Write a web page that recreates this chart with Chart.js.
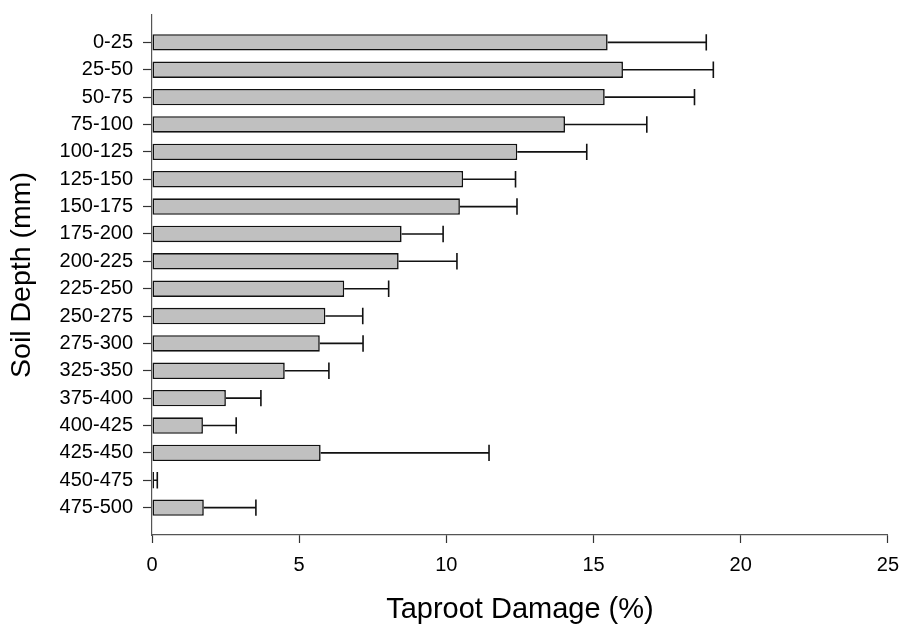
<!DOCTYPE html>
<html>
<head>
<meta charset="utf-8">
<script src="https://cdn.jsdelivr.net/npm/chart.js@4"></script>
<style>
  html, body { margin: 0; padding: 0; background: #fff; }
  canvas { display: block; }
</style>
</head>
<body>
<canvas id="chart" width="909" height="628"></canvas>
<script>
// Soil depth classes (mm)
const depths = ['0-25', '25-50', '50-75', '75-100', '100-125', '125-150', '150-175',
  '175-200', '200-225', '225-250', '250-275', '275-300', '325-350', '375-400',
  '400-425', '425-450', '450-475', '475-500'];

// Mean taproot damage (%) per depth class
const damage = [15.48, 16.0, 15.38, 14.03, 12.41, 10.57, 10.46, 8.48, 8.38, 6.53,
  5.89, 5.70, 4.51, 2.51, 1.73, 5.73, 0.07, 1.76];

// Standard error (%) drawn as a one-sided error bar
const stdError = [3.35, 3.07, 3.05, 2.78, 2.36, 1.78, 1.94, 1.41, 1.98, 1.51,
  1.27, 1.47, 1.50, 1.19, 1.13, 5.72, 0.11, 1.77];

// X-axis tick values
const xTicks = [0, 5, 10, 15, 20, 25];

// One empty slot above and below leaves a full row of space at each end of the axis
const labels = [''].concat(depths, ['']);
const values = [null].concat(damage, [null]);
const errors = [null].concat(stdError, [null]);

const FONT = "Arial, 'Liberation Sans', sans-serif";

const errorBars = {
  id: 'errorBars',
  afterDatasetsDraw(chart) {
    const meta = chart.getDatasetMeta(0);
    const xs = chart.scales.x;
    const ctx = chart.ctx;
    ctx.save();
    ctx.strokeStyle = '#111';
    ctx.lineWidth = 1.6;
    meta.data.forEach((bar, i) => {
      const v = values[i];
      const e = errors[i];
      if (v == null || e == null) return;
      const x0 = xs.getPixelForValue(v);
      const x1 = xs.getPixelForValue(v + e);
      const y = bar.y;
      const h = bar.height / 2;
      ctx.beginPath();
      ctx.moveTo(x0, y);
      ctx.lineTo(x1, y);
      ctx.moveTo(x1, y - h);
      ctx.lineTo(x1, y + h);
      ctx.stroke();
    });
    ctx.restore();
  }
};

new Chart(document.getElementById('chart'), {
  type: 'bar',
  data: {
    labels: labels,
    datasets: [{
      data: values,
      backgroundColor: '#c0c0c0',
      borderColor: '#111',
      borderWidth: 1.6,
      borderSkipped: false,
      barPercentage: 0.6,
      categoryPercentage: 1.0
    }]
  },
  plugins: [errorBars],
  options: {
    indexAxis: 'y',
    responsive: false,
    devicePixelRatio: 1,
    animation: false,
    layout: { padding: { left: 0, right: 15, top: 15, bottom: 0 } },
    plugins: {
      legend: { display: false },
      tooltip: { enabled: false }
    },
    scales: {
      x: {
        type: 'linear',
        min: 0,
        max: 25,
        afterBuildTicks(scale) {
          scale.ticks = xTicks.map(v => ({ value: v }));
        },
        afterFit(scale) { scale.height = 93; },
        grid: {
          drawOnChartArea: false,
          drawTicks: true,
          tickLength: 8,
          tickColor: '#333',
          tickWidth: 1.2
        },
        border: { display: true, color: '#555', width: 1.2 },
        ticks: {
          color: '#000',
          padding: 10,
          maxRotation: 0,
          font: { family: FONT, size: 20 }
        },
        title: {
          display: true,
          text: 'Taproot Damage (%)',
          color: '#000',
          font: { family: FONT, size: 29, lineHeight: 1.2 },
          padding: { top: 0, bottom: 1 }
        }
      },
      y: {
        type: 'category',
        offset: false,
        afterFit(scale) {
          scale.width = 152;
          scale.paddingTop = 0;
          scale.paddingBottom = 0;
        },
        grid: {
          offset: false,
          drawOnChartArea: false,
          drawTicks: true,
          tickLength: 9,
          tickWidth: 1.2,
          tickColor: (ctx) => (ctx.index === 0 || ctx.index === labels.length - 1) ? 'rgba(0,0,0,0)' : '#333'
        },
        border: { display: true, color: '#555', width: 1.2 },
        ticks: {
          color: '#000',
          padding: 10,
          autoSkip: false,
          font: { family: FONT, size: 20 }
        },
        title: {
          display: true,
          text: 'Soil Depth (mm)',
          color: '#000',
          font: { family: FONT, size: 28.5, lineHeight: 1.2 },
          padding: { top: 5, bottom: 0 }
        }
      }
    }
  }
});
</script>
</body>
</html>
